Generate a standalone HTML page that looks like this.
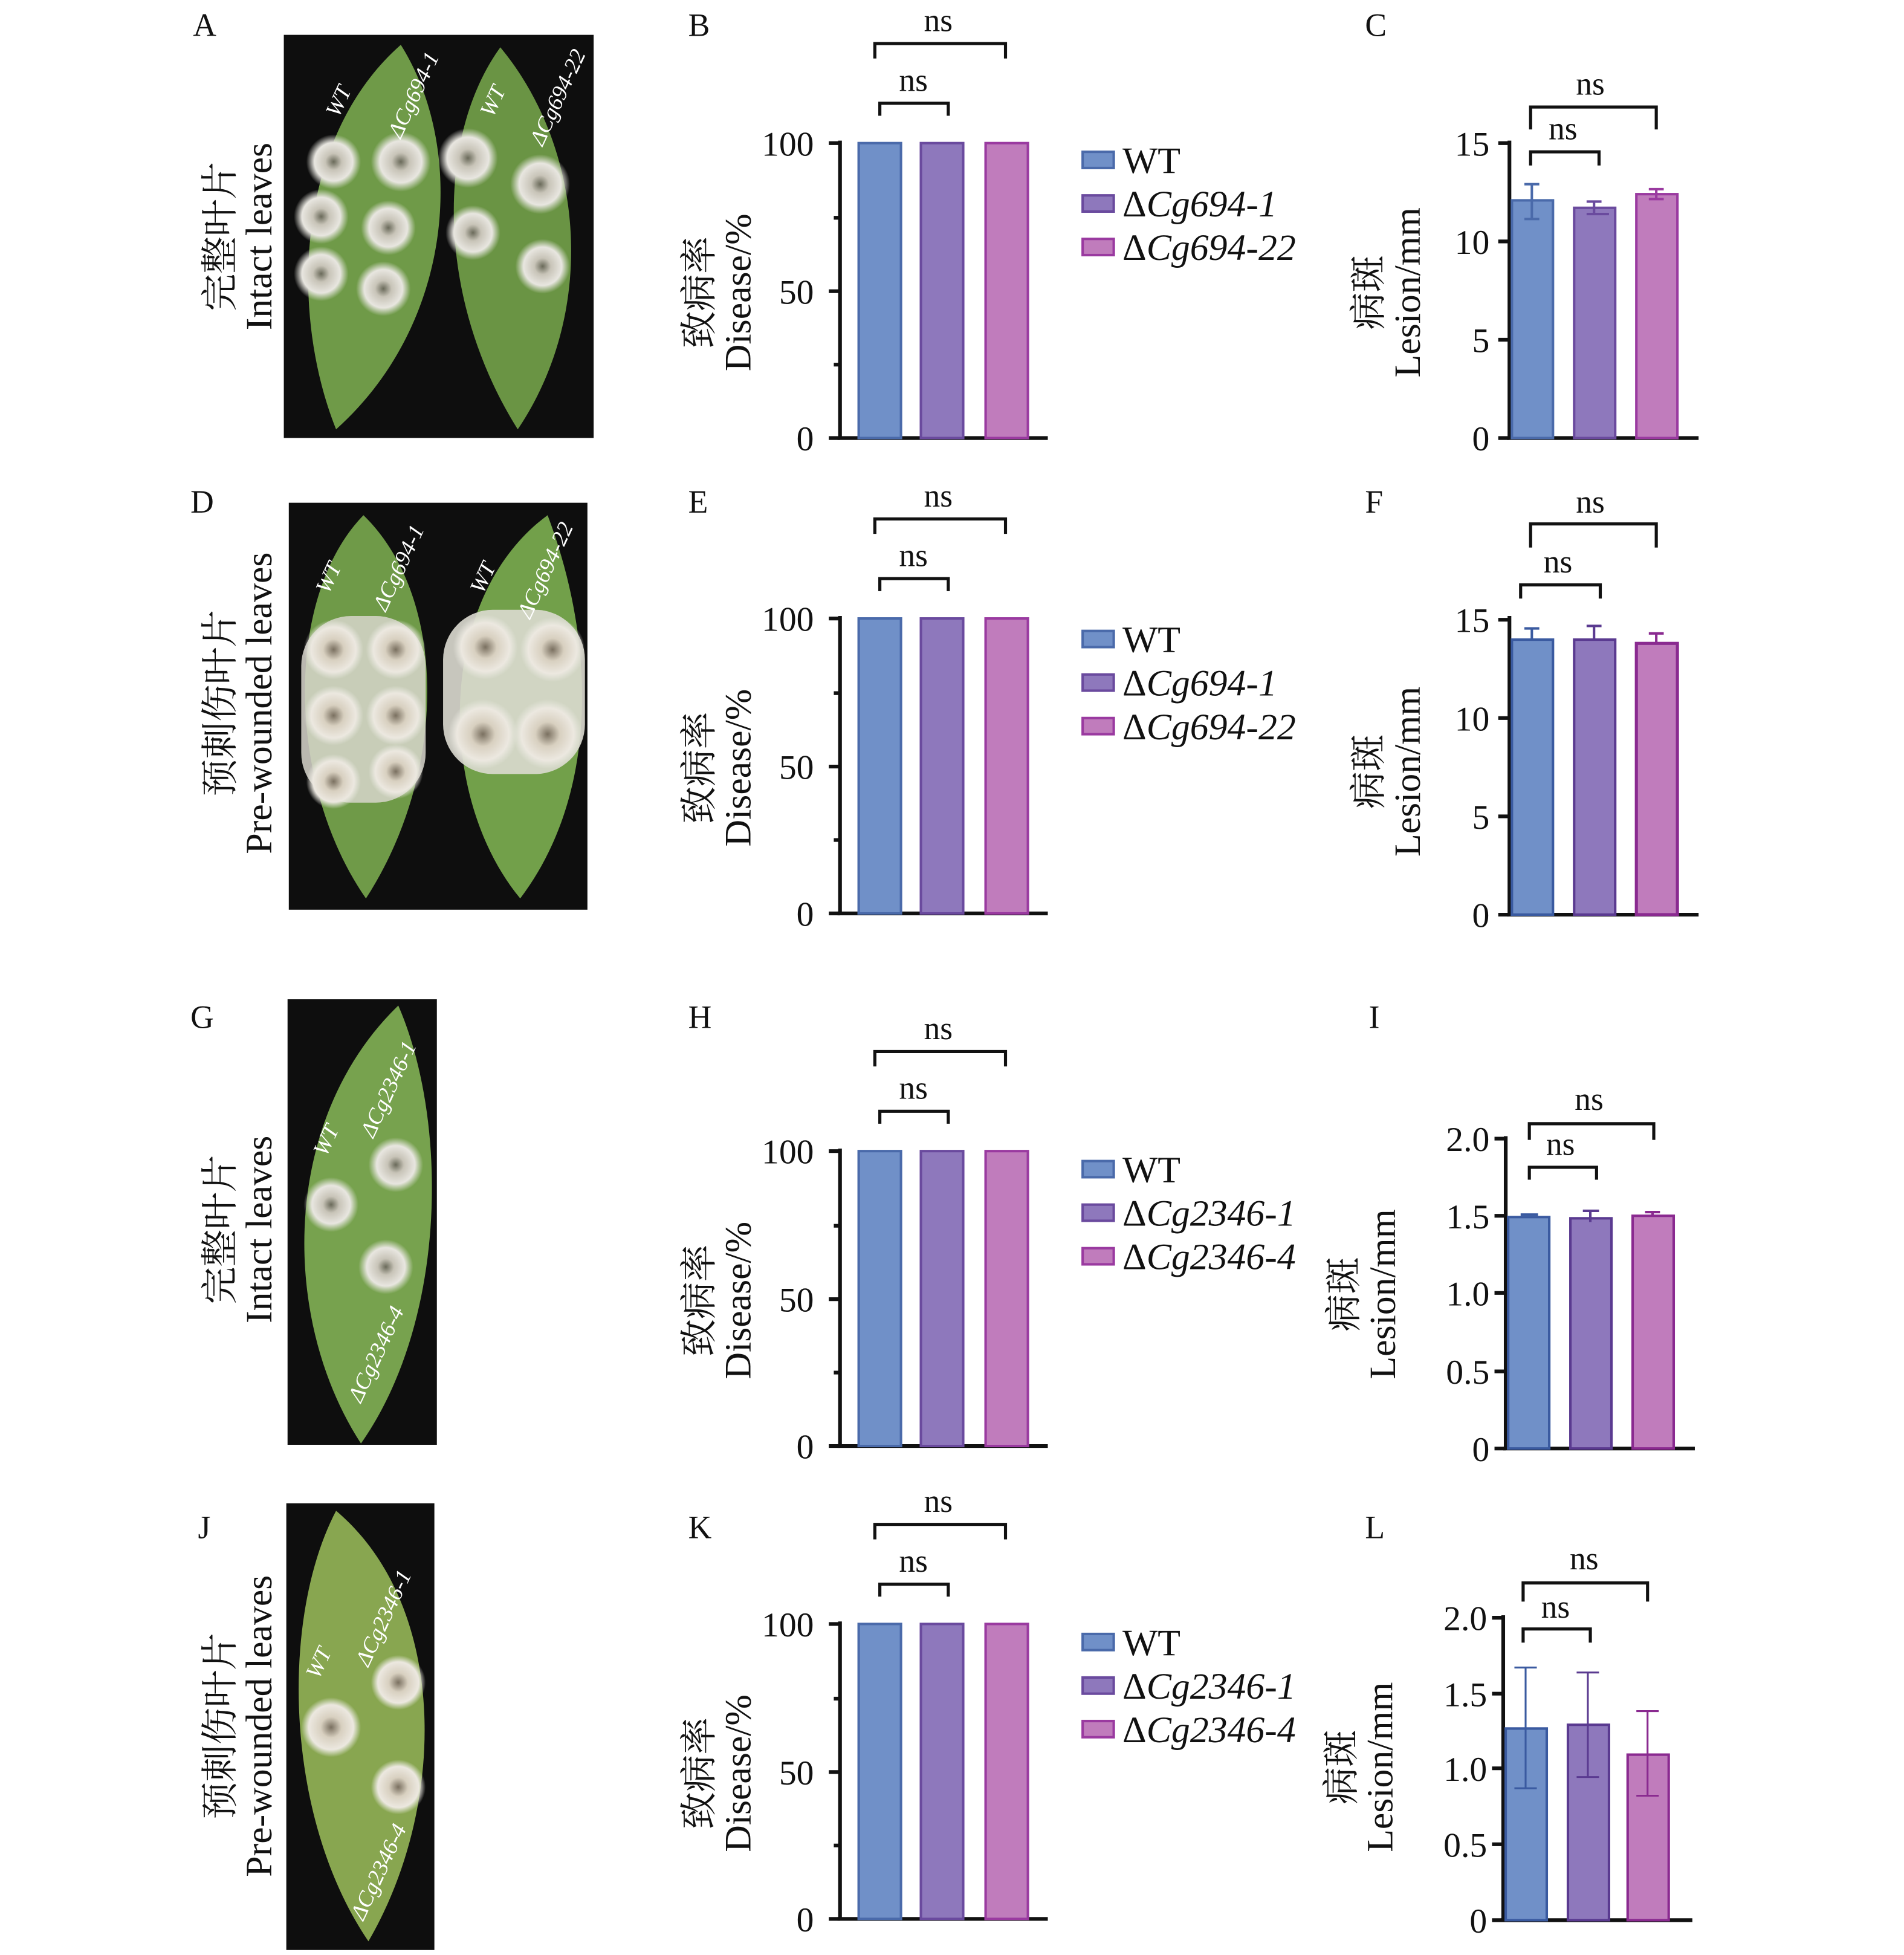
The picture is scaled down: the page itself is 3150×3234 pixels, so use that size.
<!DOCTYPE html>
<html><head><meta charset="utf-8"><style>
html,body{margin:0;padding:0;background:#fff;}
svg{display:block;}
text{font-family:"Liberation Serif","Noto Serif CJK SC",serif;fill:#111;}
.t{font-size:28px;}
.n{font-size:26px;}
.lab{font-size:30px;}
.let{font-size:26px;}
.it{font-style:italic;}
.ax{stroke:#111;stroke-width:3;fill:none;}
.br{stroke:#111;stroke-width:2.5;fill:none;}
.w{fill:#fff;font-size:18px;font-style:italic;}
</style></head><body>
<svg width="3150" height="3234" viewBox="0 0 1530 1571" xmlns="http://www.w3.org/2000/svg">
<defs>
<radialGradient id="les"><stop offset="0" stop-color="#6a6a5a"/><stop offset="0.3" stop-color="#c8c4b8"/><stop offset="0.7" stop-color="#e8e6e0"/><stop offset="1" stop-color="#e0e0d8" stop-opacity="0"/></radialGradient>
<radialGradient id="les2"><stop offset="0" stop-color="#7a7060"/><stop offset="0.35" stop-color="#d8d0c0"/><stop offset="0.75" stop-color="#ece8e0"/><stop offset="1" stop-color="#e8e8e0" stop-opacity="0"/></radialGradient>
</defs>

<text class="let" x="155" y="29">A</text><text class="let" x="553" y="29">B</text><text class="let" x="1097" y="29">C</text>
<text class="let" x="153" y="412">D</text><text class="let" x="553" y="412">E</text><text class="let" x="1097" y="412">F</text>
<text class="let" x="153" y="826">G</text><text class="let" x="553" y="826">H</text><text class="let" x="1100" y="826">I</text>
<text class="let" x="159" y="1236">J</text><text class="let" x="553" y="1236">K</text><text class="let" x="1097" y="1236">L</text>

<text class="lab" transform="translate(187,190) rotate(-90)" text-anchor="middle">完整叶片</text>
<text class="lab" transform="translate(218,190) rotate(-90)" text-anchor="middle">Intact leaves</text>
<text class="lab" transform="translate(187,565) rotate(-90)" text-anchor="middle">预刺伤叶片</text>
<text class="lab" transform="translate(218,565) rotate(-90)" text-anchor="middle">Pre-wounded leaves</text>
<text class="lab" transform="translate(187,988) rotate(-90)" text-anchor="middle">完整叶片</text>
<text class="lab" transform="translate(218,988) rotate(-90)" text-anchor="middle">Intact leaves</text>
<text class="lab" transform="translate(187,1387) rotate(-90)" text-anchor="middle">预刺伤叶片</text>
<text class="lab" transform="translate(218,1387) rotate(-90)" text-anchor="middle">Pre-wounded leaves</text>

<!-- Photo A -->
<rect x="228" y="28" width="249" height="324" fill="#0e0e0e"/>
<path d="M322,36 C375,120 365,260 270,345 C232,250 238,110 322,36 Z" fill="#6f9a48"/>
<path d="M402,38 C470,120 480,250 416,345 C350,240 350,110 402,38 Z" fill="#6a9444"/>
<circle cx="268" cy="130" r="22" fill="url(#les)"/><circle cx="322" cy="130" r="24" fill="url(#les)"/>
<circle cx="258" cy="174" r="22" fill="url(#les)"/><circle cx="312" cy="183" r="22" fill="url(#les)"/>
<circle cx="258" cy="220" r="22" fill="url(#les)"/><circle cx="308" cy="232" r="22" fill="url(#les)"/>
<circle cx="376" cy="127" r="24" fill="url(#les)"/><circle cx="434" cy="148" r="24" fill="url(#les)"/>
<circle cx="380" cy="187" r="22" fill="url(#les)"/><circle cx="436" cy="214" r="22" fill="url(#les)"/>
<text class="w" transform="translate(272,95) rotate(-65)">WT</text>
<text class="w" transform="translate(322,112) rotate(-65)">ΔCg694-1</text>
<text class="w" transform="translate(396,95) rotate(-65)">WT</text>
<text class="w" transform="translate(436,118) rotate(-65)">ΔCg694-22</text>

<!-- Photo D -->
<rect x="232" y="404" width="240" height="327" fill="#0e0e0e"/>
<path d="M292,414 C360,480 360,620 294,722 C230,630 228,480 292,414 Z" fill="#6f9a48"/>
<path d="M440,414 C480,520 480,640 418,722 C350,640 350,480 440,414 Z" fill="#72a04a"/>
<rect x="242" y="495" width="100" height="150" rx="40" fill="#d8d6cc" opacity="0.85"/>
<rect x="356" y="490" width="114" height="132" rx="40" fill="#dcdad0" opacity="0.9"/>
<circle cx="268" cy="522" r="24" fill="url(#les2)"/><circle cx="318" cy="522" r="24" fill="url(#les2)"/>
<circle cx="268" cy="575" r="24" fill="url(#les2)"/><circle cx="318" cy="575" r="24" fill="url(#les2)"/>
<circle cx="268" cy="628" r="22" fill="url(#les2)"/><circle cx="318" cy="620" r="22" fill="url(#les2)"/>
<circle cx="390" cy="520" r="26" fill="url(#les2)"/><circle cx="444" cy="522" r="26" fill="url(#les2)"/>
<circle cx="388" cy="590" r="28" fill="url(#les2)"/><circle cx="440" cy="590" r="28" fill="url(#les2)"/>
<text class="w" transform="translate(264,478) rotate(-65)">WT</text>
<text class="w" transform="translate(310,492) rotate(-65)">ΔCg694-1</text>
<text class="w" transform="translate(388,478) rotate(-65)">WT</text>
<text class="w" transform="translate(426,498) rotate(-65)">ΔCg694-22</text>

<!-- Photo G -->
<rect x="231" y="803" width="120" height="358" fill="#0e0e0e"/>
<path d="M320,808 C360,900 360,1060 290,1160 C225,1060 225,900 320,808 Z" fill="#77a24e"/>
<circle cx="266" cy="968" r="22" fill="url(#les)"/><circle cx="318" cy="936" r="22" fill="url(#les)"/>
<circle cx="310" cy="1018" r="22" fill="url(#les)"/>
<text class="w" transform="translate(262,930) rotate(-65)">WT</text>
<text class="w" transform="translate(300,915) rotate(-65)">ΔCg2346-1</text>
<text class="w" transform="translate(290,1128) rotate(-65)">ΔCg2346-4</text>

<!-- Photo J -->
<rect x="230" y="1208" width="119" height="359" fill="#0e0e0e"/>
<path d="M270,1214 C360,1290 360,1450 296,1560 C228,1460 225,1300 270,1214 Z" fill="#88a650"/>
<circle cx="266" cy="1388" r="24" fill="url(#les2)"/><circle cx="320" cy="1352" r="22" fill="url(#les2)"/>
<circle cx="320" cy="1436" r="22" fill="url(#les2)"/>
<text class="w" transform="translate(256,1350) rotate(-65)">WT</text>
<text class="w" transform="translate(296,1340) rotate(-65)">ΔCg2346-1</text>
<text class="w" transform="translate(292,1544) rotate(-65)">ΔCg2346-4</text>

<g id="dis1">
<line class="ax" x1="675" y1="113" x2="675" y2="353"/><line class="ax" x1="673" y1="352" x2="842" y2="352"/>
<path class="ax" d="M666,115H675M666,234H675M666,352H675M670,175H675M670,293H675"/>
<text class="t" x="654" y="125" text-anchor="end">100</text><text class="t" x="654" y="244" text-anchor="end">50</text><text class="t" x="654" y="362" text-anchor="end">0</text>
<rect x="690" y="115" width="34" height="237" fill="#7090c8" stroke="#4a6aaa" stroke-width="2"/>
<rect x="740" y="115" width="34" height="237" fill="#8e78bc" stroke="#6a4a9e" stroke-width="2"/>
<rect x="792" y="115" width="34" height="237" fill="#c07cbc" stroke="#9a3aa0" stroke-width="2"/>
<text class="lab" transform="translate(572,235) rotate(-90)" text-anchor="middle">致病率</text>
<text class="lab" transform="translate(603,235) rotate(-90)" text-anchor="middle">Disease/%</text>
<text class="n" x="754" y="25" text-anchor="middle">ns</text>
<path class="br" d="M703,47V35H808V47"/>
<text class="n" x="734" y="73" text-anchor="middle">ns</text>
<path class="br" d="M707,93V83H762V93"/>
</g>
<use href="#dis1" transform="translate(0,382)"/>
<use href="#dis1" transform="translate(0,810)"/>
<use href="#dis1" transform="translate(0,1190)"/>

<g id="leg1">
<rect x="870" y="122" width="25" height="13" fill="#7090c8" stroke="#4a6aaa" stroke-width="2"/>
<rect x="870" y="157" width="25" height="13" fill="#8e78bc" stroke="#6a4a9e" stroke-width="2"/>
<rect x="870" y="192" width="25" height="13" fill="#c07cbc" stroke="#9a3aa0" stroke-width="2"/>
</g>
<text class="lab" x="902" y="139">WT</text>
<text class="lab" x="902" y="174">Δ<tspan class="it">Cg694-1</tspan></text>
<text class="lab" x="902" y="209">Δ<tspan class="it">Cg694-22</tspan></text>
<use href="#leg1" transform="translate(0,385)"/>
<text class="lab" x="902" y="524">WT</text>
<text class="lab" x="902" y="559">Δ<tspan class="it">Cg694-1</tspan></text>
<text class="lab" x="902" y="594">Δ<tspan class="it">Cg694-22</tspan></text>
<use href="#leg1" transform="translate(0,811)"/>
<text class="lab" x="902" y="950">WT</text>
<text class="lab" x="902" y="985">Δ<tspan class="it">Cg2346-1</tspan></text>
<text class="lab" x="902" y="1020">Δ<tspan class="it">Cg2346-4</tspan></text>
<use href="#leg1" transform="translate(0,1191)"/>
<text class="lab" x="902" y="1330">WT</text>
<text class="lab" x="902" y="1365">Δ<tspan class="it">Cg2346-1</tspan></text>
<text class="lab" x="902" y="1400">Δ<tspan class="it">Cg2346-4</tspan></text>

<!-- Panel C -->
<line class="ax" x1="1213" y1="113" x2="1213" y2="353"/><line class="ax" x1="1211" y1="352" x2="1365" y2="352"/>
<path class="ax" d="M1204,115H1213M1204,194H1213M1204,273H1213M1204,352H1213"/>
<text class="t" x="1197" y="125" text-anchor="end">15</text><text class="t" x="1197" y="204" text-anchor="end">10</text><text class="t" x="1197" y="283" text-anchor="end">5</text><text class="t" x="1197" y="362" text-anchor="end">0</text>
<rect x="1215" y="161" width="33" height="191" fill="#7090c8" stroke="#4a6aaa" stroke-width="2"/>
<rect x="1265" y="167" width="33" height="185" fill="#8e78bc" stroke="#6a4a9e" stroke-width="2"/>
<rect x="1315" y="156" width="33" height="196" fill="#c07cbc" stroke="#9a3aa0" stroke-width="2"/>
<path d="M1231,148V176M1225,148H1237M1225,176H1237" stroke="#4a6aaa" stroke-width="2" fill="none"/>
<path d="M1281,162V172M1275,162H1287M1275,172H1293" stroke="#6a4a9e" stroke-width="2" fill="none"/>
<path d="M1331,152V160M1325,152H1337M1325,160H1337" stroke="#9a3aa0" stroke-width="2" fill="none"/>
<text class="lab" transform="translate(1110,235) rotate(-90)" text-anchor="middle">病斑</text>
<text class="lab" transform="translate(1141,235) rotate(-90)" text-anchor="middle">Lesion/mm</text>
<text class="n" x="1278" y="76" text-anchor="middle">ns</text><path class="br" d="M1230,104V86H1331V104"/>
<text class="n" x="1256" y="112" text-anchor="middle">ns</text><path class="br" d="M1230,133V122H1285V133"/>

<!-- Panel F -->
<line class="ax" x1="1213" y1="495" x2="1213" y2="736"/><line class="ax" x1="1211" y1="735" x2="1365" y2="735"/>
<path class="ax" d="M1204,498H1213M1204,577H1213M1204,656H1213M1204,735H1213"/>
<text class="t" x="1197" y="508" text-anchor="end">15</text><text class="t" x="1197" y="587" text-anchor="end">10</text><text class="t" x="1197" y="666" text-anchor="end">5</text><text class="t" x="1197" y="745" text-anchor="end">0</text>
<rect x="1215" y="514" width="33" height="221" fill="#7090c8" stroke="#3a5aa0" stroke-width="2"/>
<rect x="1265" y="514" width="33" height="221" fill="#8e78bc" stroke="#5a3a90" stroke-width="2"/>
<rect x="1315" y="517" width="33" height="218" fill="#c07cbc" stroke="#8a2a90" stroke-width="2.5"/>
<path d="M1231,505V514M1225,505H1237" stroke="#3a5aa0" stroke-width="2" fill="none"/>
<path d="M1281,503V514M1275,503H1287" stroke="#5a3a90" stroke-width="2" fill="none"/>
<path d="M1331,509V517M1325,509H1337" stroke="#8a2a90" stroke-width="2" fill="none"/>
<text class="lab" transform="translate(1110,620) rotate(-90)" text-anchor="middle">病斑</text>
<text class="lab" transform="translate(1141,620) rotate(-90)" text-anchor="middle">Lesion/mm</text>
<text class="n" x="1278" y="412" text-anchor="middle">ns</text><path class="br" d="M1230,440V421H1331V440"/>
<text class="n" x="1252" y="460" text-anchor="middle">ns</text><path class="br" d="M1222,481V470H1286V481"/>

<!-- Panel I -->
<line class="ax" x1="1210" y1="913" x2="1210" y2="1165"/><line class="ax" x1="1208" y1="1164" x2="1362" y2="1164"/>
<path class="ax" d="M1201,915H1210M1201,977H1210M1201,1039H1210M1201,1102H1210M1201,1164H1210"/>
<text class="t" x="1197" y="925" text-anchor="end">2.0</text><text class="t" x="1197" y="987" text-anchor="end">1.5</text><text class="t" x="1197" y="1049" text-anchor="end">1.0</text><text class="t" x="1197" y="1112" text-anchor="end">0.5</text><text class="t" x="1197" y="1174" text-anchor="end">0</text>
<rect x="1212" y="978" width="33" height="186" fill="#7090c8" stroke="#3a5aa0" stroke-width="2"/>
<rect x="1262" y="979" width="33" height="185" fill="#8e78bc" stroke="#5a3a90" stroke-width="2"/>
<rect x="1312" y="977" width="33" height="187" fill="#c07cbc" stroke="#8a2a90" stroke-width="2"/>
<path d="M1222,976H1236" stroke="#3a5aa0" stroke-width="2"/>
<path d="M1278,973V982M1272,973H1285" stroke="#5a3a90" stroke-width="2" fill="none"/>
<path d="M1328,974V977M1322,974H1334" stroke="#8a2a90" stroke-width="2" fill="none"/>
<text class="lab" transform="translate(1090,1040) rotate(-90)" text-anchor="middle">病斑</text>
<text class="lab" transform="translate(1121,1040) rotate(-90)" text-anchor="middle">Lesion/mm</text>
<text class="n" x="1277" y="892" text-anchor="middle">ns</text><path class="br" d="M1229,916V903H1329V916"/>
<text class="n" x="1254" y="928" text-anchor="middle">ns</text><path class="br" d="M1229,948V938H1283V948"/>

<!-- Panel L -->
<line class="ax" x1="1208" y1="1298" x2="1208" y2="1544"/><line class="ax" x1="1206" y1="1543" x2="1360" y2="1543"/>
<path class="ax" d="M1199,1300H1208M1199,1361H1208M1199,1421H1208M1199,1482H1208M1199,1543H1208"/>
<text class="t" x="1195" y="1310" text-anchor="end">2.0</text><text class="t" x="1195" y="1371" text-anchor="end">1.5</text><text class="t" x="1195" y="1431" text-anchor="end">1.0</text><text class="t" x="1195" y="1492" text-anchor="end">0.5</text><text class="t" x="1195" y="1553" text-anchor="end">0</text>
<rect x="1210" y="1389" width="33" height="154" fill="#7090c8" stroke="#3a5aa0" stroke-width="2"/>
<rect x="1260" y="1386" width="33" height="157" fill="#8e78bc" stroke="#5a3a90" stroke-width="2"/>
<rect x="1308" y="1410" width="33" height="133" fill="#c07cbc" stroke="#8a2a90" stroke-width="2"/>
<path d="M1226,1340V1437M1217,1340H1235M1217,1437H1235" stroke="#3a5aa0" stroke-width="1.5" fill="none"/>
<path d="M1276,1344V1428M1267,1344H1285M1267,1428H1285" stroke="#5a3a90" stroke-width="1.5" fill="none"/>
<path d="M1324,1375V1443M1315,1375H1333M1315,1443H1333" stroke="#8a2a90" stroke-width="1.5" fill="none"/>
<text class="lab" transform="translate(1088,1420) rotate(-90)" text-anchor="middle">病斑</text>
<text class="lab" transform="translate(1119,1420) rotate(-90)" text-anchor="middle">Lesion/mm</text>
<text class="n" x="1273" y="1261" text-anchor="middle">ns</text><path class="br" d="M1224,1287V1272H1324V1287"/>
<text class="n" x="1250" y="1300" text-anchor="middle">ns</text><path class="br" d="M1224,1320V1309H1278V1320"/>
</svg>
</body></html>
